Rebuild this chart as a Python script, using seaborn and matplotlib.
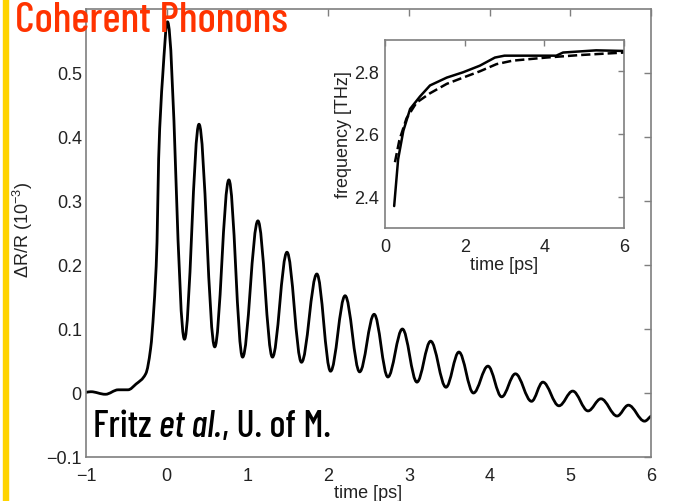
import matplotlib.pyplot as plt
import numpy as np
import seaborn as sns
from matplotlib.path import Path
from matplotlib.patches import PathPatch, Rectangle

t_main = [-1.0, -0.94, -0.76, -0.60, -0.48, -0.38, -0.26, -0.20, -0.16, -0.12, -0.10, -0.05,
          0.01, 0.22, 0.40, 0.595, 0.77, 0.94, 1.13, 1.31, 1.49, 1.67, 1.86, 2.03, 2.21, 2.39,
          2.57, 2.74, 2.92, 3.10, 3.27, 3.46, 3.62, 3.80, 3.98, 4.15, 4.32, 4.52, 4.66, 4.86,
          5.03, 5.22, 5.38, 5.58, 5.72, 5.92, 6.0]
dr_main = [0.001, 0.002, -0.002, 0.005, 0.005, 0.014, 0.030, 0.069, 0.131, 0.236, 0.366, 0.495,
           0.580, 0.084, 0.420, 0.072, 0.333, 0.056, 0.269, 0.056, 0.220, 0.048, 0.186, 0.034,
           0.152, 0.033, 0.123, 0.025, 0.100, 0.017, 0.081, 0.009, 0.064, 0.000, 0.042, -0.006,
           0.030, -0.013, 0.017, -0.020, 0.003, -0.028, -0.009, -0.036, -0.019, -0.044, -0.036]

# inset: phonon frequency (THz) vs time (ps)
t_solid = [0.23, 0.33, 0.46, 0.63, 0.88, 1.13, 1.55, 1.96, 2.38, 2.76, 3.0, 3.63, 4.3, 4.47, 5.3, 6.0]
f_solid = [2.37, 2.52, 2.61, 2.68, 2.72, 2.755, 2.78, 2.797, 2.818, 2.844, 2.85, 2.85, 2.85, 2.86,
           2.867, 2.865]
t_dash = [0.25, 0.36, 0.54, 0.79, 1.13, 1.55, 1.96, 2.38, 2.8, 3.2, 4.05, 4.9, 6.0]
f_dash = [2.51, 2.58, 2.65, 2.70, 2.73, 2.76, 2.78, 2.80, 2.823, 2.834, 2.844, 2.852, 2.86]

x_ticks = [-1, 0, 1, 2, 3, 4, 5, 6]
x_ticklabels = ['\u22121', '0', '1', '2', '3', '4', '5', '6']
y_ticks = [-0.1, 0, 0.1, 0.2, 0.3, 0.4, 0.5]
y_ticklabels = ['\u22120.1', '0', '0.1', '0.2', '0.3', '0.4', '0.5']
in_xticks = [0, 2, 4, 6]
in_yticks = [2.4, 2.6, 2.8]


def smooth_path(x, y):
    # monotone cubic through the read points, drawn as bezier pieces
    x = np.asarray(x, float)
    y = np.asarray(y, float)
    h = np.diff(x)
    d = np.diff(y) / h
    m = np.zeros_like(y)
    m[0], m[-1] = d[0], d[-1]
    for k in range(1, len(y) - 1):
        if d[k - 1] * d[k] > 0:
            w1 = 2 * h[k] + h[k - 1]
            w2 = h[k] + 2 * h[k - 1]
            m[k] = (w1 + w2) / (w1 / d[k - 1] + w2 / d[k])
    verts = [(x[0], y[0])]
    codes = [Path.MOVETO]
    for k in range(len(h)):
        c = h[k] * 0.36
        verts += [(x[k] + c, y[k] + m[k] * c), (x[k + 1] - c, y[k + 1] - m[k + 1] * c),
                  (x[k + 1], y[k + 1])]
        codes += [Path.CURVE4] * 3
    return Path(verts, codes)


sns.set_style('white')
plt.rcParams['font.family'] = ['Liberation Sans', 'DejaVu Sans']
plt.rcParams['mathtext.fontset'] = 'custom'
plt.rcParams['mathtext.rm'] = 'Liberation Sans'
plt.rcParams['font.size'] = 13

spine_grey = '#7f7f7f'
txt_col = '#222222'
cond = ['Barlow Condensed', 'Roboto Condensed', 'DejaVu Sans']

fig = plt.figure(figsize=(6.75, 5.02), dpi=100)

# yellow bar on the left edge
fig.patches.append(Rectangle((3 / 675, 0), 5 / 675, 1, transform=fig.transFigure,
                             color='#FFD400', zorder=0))

ax = fig.add_axes([86 / 675, 1 - 458 / 502, 565 / 675, 448 / 502])
ax.add_patch(PathPatch(smooth_path(t_main, dr_main), fill=False, lw=2.0, edgecolor='black',
                       joinstyle='round', capstyle='round'))
ax.set_xlim(-1, 6)
ax.set_ylim(-0.1, 0.6)
ax.set_xticks(x_ticks, x_ticklabels)
ax.set_yticks(y_ticks, y_ticklabels)
ax.tick_params(direction='in', top=True, right=True, length=5, width=1, color=spine_grey,
               labelcolor=txt_col, labelsize=13)
ax.tick_params(axis='x', pad=7)
ax.tick_params(axis='y', pad=3)
for s in ax.spines.values():
    s.set_color(spine_grey)
    s.set_linewidth(1.2)
ax.set_xlabel('time [ps]', fontsize=13, color=txt_col, labelpad=0)
ax.set_ylabel('\u0394R/R (10$^{\u22123}$)', fontsize=13, color=txt_col)
ax.yaxis.set_label_coords(-0.09, 0.51)

# inset
axi = fig.add_axes([385 / 675, 1 - 229 / 502, 239 / 675, 188 / 502])
sns.lineplot(x=t_solid, y=f_solid, ax=axi, color='black', lw=1.8)
sns.lineplot(x=t_dash, y=f_dash, ax=axi, color='black', lw=1.8, linestyle='--')
axi.set_xlim(0, 6)
axi.set_ylim(2.3, 2.9)
axi.set_xticks(in_xticks, [str(v) for v in in_xticks])
axi.set_yticks(in_yticks, ['{:.1f}'.format(v) for v in in_yticks])
axi.tick_params(direction='in', top=True, right=True, length=4, width=1, color=spine_grey,
                labelcolor=txt_col, labelsize=13)
axi.tick_params(axis='x', pad=7)
axi.tick_params(axis='y', pad=4)
for s in axi.spines.values():
    s.set_color(spine_grey)
    s.set_linewidth(1.2)
axi.set_xlabel('time [ps]', fontsize=13, color=txt_col, labelpad=1)
axi.set_ylabel('frequency [THz]', fontsize=13, color=txt_col, labelpad=2)

# headline
fig.text(15 / 675, 1 - 32 / 502, 'Coherent Phonons', color='#FF3300', fontsize=31,
         family=cond, weight='medium', va='baseline', ha='left')

# credit line, pieced together so "et al." can be italic
renderer = fig.canvas.get_renderer()
x0 = 93 / 675
y0 = 1 - 437 / 502
for part, style in [('Fritz ', 'normal'), ('et al.', 'italic'), (', U. of M.', 'normal')]:
    t = fig.text(x0, y0, part, color='black', fontsize=27, family=cond, weight='medium',
                 style=style, va='baseline', ha='left')
    bb = t.get_window_extent(renderer)
    x0 = fig.transFigure.inverted().transform((bb.x1, bb.y0))[0]

fig.savefig('out.png', dpi=100)
